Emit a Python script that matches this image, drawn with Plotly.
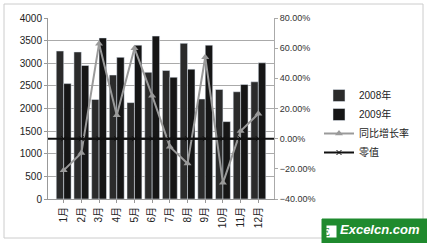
import plotly.graph_objects as go

months = ["1月", "2月", "3月", "4月", "5月", "6月", "7月", "8月", "9月", "10月", "11月", "12月"]
sales_2008 = [3270, 3250, 2200, 2740, 2130, 2800, 2840, 3440, 2210, 2420, 2370, 2590]
sales_2009 = [2550, 2950, 3560, 3130, 3400, 3600, 2690, 2870, 3400, 1710, 2530, 3010]
growth = [-0.21, -0.095, 0.63, 0.155, 0.60, 0.285, -0.053, -0.165, 0.54, -0.293, 0.05, 0.165]
zero_line = [0] * 12

W, H = 427, 243
L, R, T, B = 48, 274, 18, 199

def px(x):
    return (x - L) / (R - L)

def py(y):
    return (B - y) / (B - T)

font_cjk = "Liberation Sans, Noto Sans CJK SC, sans-serif"

fig = go.Figure()
fig.add_trace(go.Bar(x=months, y=sales_2008, name="2008年", marker_color="#2b2b2b", yaxis="y"))
fig.add_trace(go.Bar(x=months, y=sales_2009, name="2009年", marker_color="#161616", yaxis="y"))
fig.add_trace(go.Scatter(x=months, y=growth, name="同比增长率", yaxis="y2", mode="lines+markers",
                         line=dict(color="#9a9a9a", width=2),
                         marker=dict(symbol="triangle-up", size=7, color="#9a9a9a")))
fig.add_trace(go.Scatter(x=months, y=zero_line, name="零值", yaxis="y2", mode="lines+markers",
                         line=dict(color="#111111", width=2),
                         marker=dict(symbol="x-thin", size=5, line=dict(color="#111111", width=1))))

# zero-value line spans the full plot width as in the original chart
fig.add_shape(type="line", xref="paper", yref="y2", x0=0, x1=1, y0=zero_line[0], y1=zero_line[0],
              line=dict(color="#111111", width=2))

fig.update_layout(
    width=W, height=H,
    margin=dict(l=L, r=W - R, t=T, b=H - B, autoexpand=False),
    paper_bgcolor="white", plot_bgcolor="white",
    barmode="group", bargap=0.16, bargroupgap=0.0,
    font=dict(family=font_cjk, size=10, color="#222222"),
    xaxis=dict(tickangle=-90, showline=True, linecolor="#999999", ticks="outside",
               ticklen=3, tickcolor="#999999", tickfont=dict(size=10), fixedrange=True),
    yaxis=dict(range=[0, 4000], dtick=500, showgrid=True, gridcolor="#aaaaaa", gridwidth=1,
               showline=True, linecolor="#999999", ticks="outside", ticklen=3,
               tickcolor="#999999", zeroline=False, tickfont=dict(size=10)),
    yaxis2=dict(range=[-0.4, 0.8], dtick=0.2, tickformat=".2%", overlaying="y", side="right",
                showgrid=False, showline=True, linecolor="#aaaaaa", ticks="outside",
                ticklen=3, tickcolor="#aaaaaa", zeroline=False, tickfont=dict(size=9, color="#333333")),
    legend=dict(x=px(319), y=py(81), xanchor="left", yanchor="top", bgcolor="rgba(0,0,0,0)",
                font=dict(size=10), tracegroupgap=2, itemwidth=30),
    showlegend=True,
)

# outer border
fig.add_shape(type="rect", xref="paper", yref="paper",
              x0=px(4), x1=px(423), y0=py(238), y1=py(4),
              line=dict(color="#cccccc", width=1), layer="below")

# watermark logo
fig.add_shape(type="rect", xref="paper", yref="paper",
              x0=px(322), x1=px(431), y0=py(245), y1=py(219),
              fillcolor="#1f8a2e", line=dict(color="#1f8a2e", width=1))
fig.add_shape(type="rect", xref="paper", yref="paper",
              x0=px(326), x1=px(337), y0=py(238), y1=py(225),
              fillcolor="white", line=dict(color="#1f8a2e", width=1))
fig.add_annotation(xref="paper", yref="paper", x=px(331.5), y=py(231.5), text="<b>E</b>",
                   showarrow=False, yanchor="middle",
                   font=dict(family="Liberation Serif", size=12, color="#1f8a2e"))
fig.add_annotation(xref="paper", yref="paper", x=px(338), y=py(239), text="<b><i>Excelcn.com</i></b>",
                   showarrow=False, xanchor="left", yanchor="bottom",
                   font=dict(family="Liberation Sans", size=13, color="white"))

fig.write_html("out.html")
